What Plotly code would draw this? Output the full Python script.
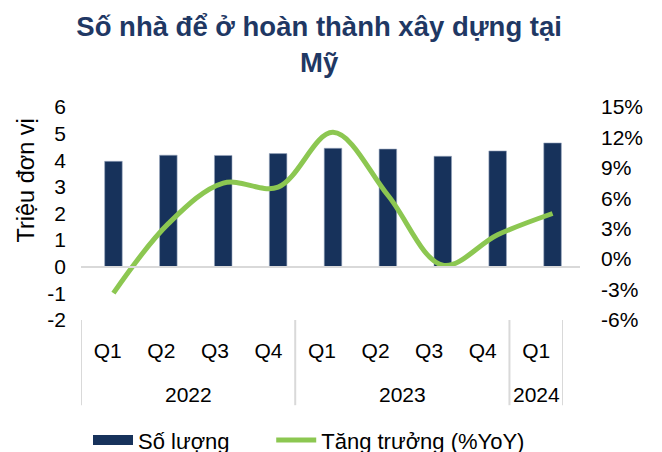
import plotly.graph_objects as go

years = ["2022", "2022", "2022", "2022", "2023", "2023", "2023", "2023", "2024"]
quarters = ["Q1", "Q2", "Q3", "Q4", "Q1", "Q2", "Q3", "Q4", "Q1"]
so_luong = [3.96, 4.19, 4.18, 4.25, 4.45, 4.42, 4.15, 4.35, 4.65]
tang_truong = [-3.35, 3.5, 7.5, 7.1, 12.5, 6.3, -0.6, 2.4, 4.5]

left_ticks = [-2, -1, 0, 1, 2, 3, 4, 5, 6]
right_ticks = [-6, -3, 0, 3, 6, 9, 12, 15]

FONT = "Liberation Sans, Arial, sans-serif"
NAVY = "#17325b"
GREEN = "#8cc751"
DIV = "#d9d9d9"

cats = [f"{q} {y}" for q, y in zip(quarters, years)]

fig = go.Figure()
fig.add_trace(go.Bar(
    x=cats, y=so_luong, name="Số lượng", showlegend=False,
    marker=dict(color=NAVY, line=dict(color="#9aa8bf", width=0.6)),
    xaxis="x", yaxis="y",
))
# legend entry for the bars (wide rectangle like the reference); also carries the label axis
fig.add_trace(go.Scatter(
    x=cats, y=[None] * len(so_luong), name="Số lượng" + "\u00a0" * 6,
    mode="lines", line=dict(color=NAVY, width=13), xaxis="x2", yaxis="y",
    hoverinfo="skip",
))
fig.add_trace(go.Scatter(
    x=cats, y=tang_truong, name="Tăng trưởng (%YoY)",
    mode="lines", line=dict(color=GREEN, width=5, shape="spline", smoothing=1),
    xaxis="x", yaxis="y2",
))

# group boundaries and centres (in category index units)
groups = []
for i, y in enumerate(years):
    if not groups or groups[-1][0] != y:
        groups.append([y, i, i])
    else:
        groups[-1][2] = i

W, H = 662, 452
L, R = 70, 90
T, B = 99, 140
pw = W - L - R
ph = H - T - B


def dom(a, b):
    return [(a - L) / pw, (b - L) / pw]


shapes = []
bounds = sorted({g[1] - 0.5 for g in groups} | {g[2] + 0.5 for g in groups})
for b in bounds:
    shapes.append(dict(type="line", xref="x2", yref="paper", x0=b, x1=b,
                       y0=0.0, y1=-0.4, line=dict(color=DIV, width=2)))

annotations = [dict(text=g[0], xref="x2", yref="paper", x=(g[1] + g[2]) / 2,
                    y=-0.352, xanchor="center", yanchor="middle", showarrow=False,
                    font=dict(family=FONT, size=21, color="#000000"))
               for g in groups]
annotations.append(dict(text="Triệu đơn vị", textangle=-90, xref="paper", yref="paper",
                        x=(18 - L) / pw, y=0.655, xanchor="center", yanchor="middle",
                        showarrow=False, font=dict(family=FONT, size=23.5)))

fig.update_layout(
    width=W, height=H,
    margin=dict(l=L, r=R, t=T, b=B, autoexpand=False),
    paper_bgcolor="white", plot_bgcolor="rgba(0,0,0,0)",
    font=dict(family=FONT, size=21, color="#000000"),
    title=dict(text="<b>Số nhà để ở hoàn thành xây dựng tại<br>Mỹ</b>",
               xref="container", x=0.47, xanchor="center",
               yref="container", y=0.937, yanchor="top",
               font=dict(family=FONT, size=27.5, color="#1f3864")),
    bargap=0.68,
    showlegend=True,
    legend=dict(orientation="h", xref="container", x=80 / W, xanchor="left",
                yref="container", y=0.044, yanchor="middle",
                font=dict(family=FONT, size=22), itemwidth=40,
                traceorder="normal", bgcolor="rgba(0,0,0,0)"),
    xaxis=dict(domain=dom(78, 572), type="category", showgrid=False, showline=False,
               ticks="", showticklabels=False, automargin=False, anchor="y"),
    xaxis2=dict(domain=dom(73, 555), type="category", range=[-0.5, 8.5],
                tickvals=cats, ticktext=quarters, showgrid=False, showline=False,
                zeroline=False, ticks="", ticklabelstandoff=16, automargin=False,
                anchor="y", tickfont=dict(size=21)),
    yaxis=dict(range=[-2, 6], tickvals=left_ticks,
               ticktext=[str(v) for v in left_ticks], ticklabelstandoff=19,
               showgrid=False, zeroline=True, automargin=False,
               zerolinecolor=DIV, zerolinewidth=2, showline=False,
               ticks="", tickfont=dict(size=21)),
    yaxis2=dict(range=[-6, 15], tickvals=right_ticks,
                ticktext=[f"{v}%" for v in right_ticks], automargin=False,
                ticklabelstandoff=20, anchor="x",
                overlaying="y", side="right", showgrid=False, zeroline=False,
                showline=False, ticks="", tickfont=dict(size=21)),
    shapes=shapes,
    annotations=annotations,
)

fig.write_html("out.html")
